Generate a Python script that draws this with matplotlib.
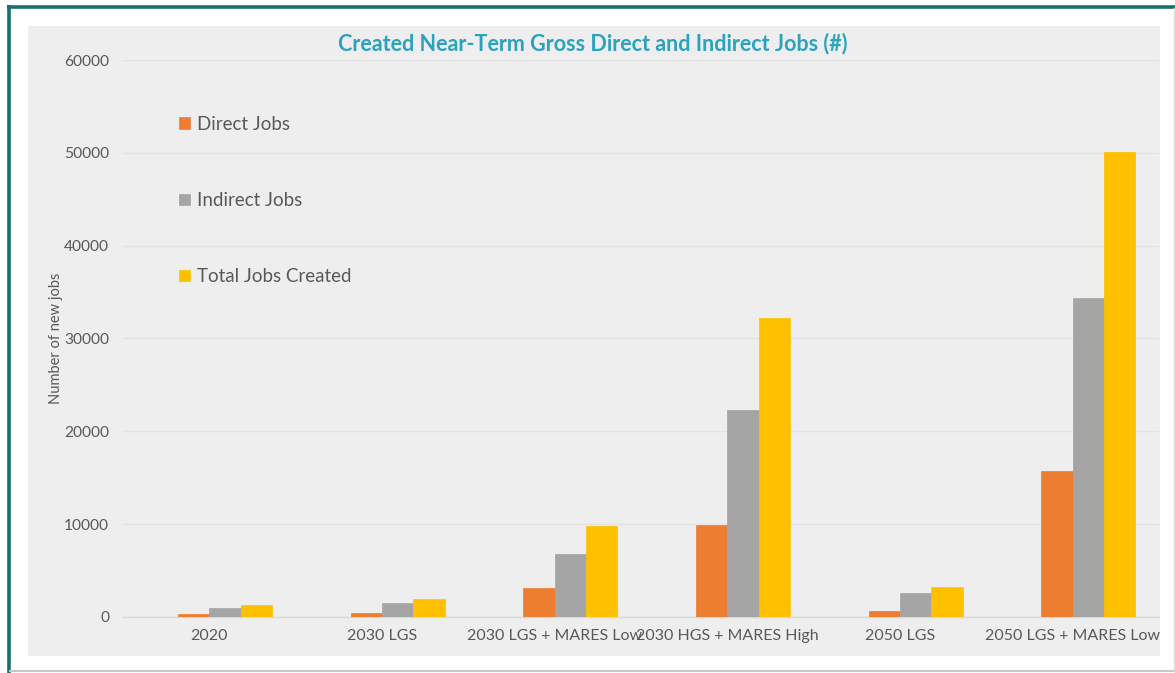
import matplotlib
matplotlib.use("Agg")
import matplotlib.pyplot as plt
import numpy as np
from matplotlib.patches import Rectangle
from matplotlib.lines import Line2D

# Scenario categories and job counts
categories = ["2020", "2030 LGS", "2030 LGS + MARES Low", "2030 HGS + MARES High",
              "2050 LGS", "2050 LGS + MARES Low"]
direct_jobs = [280, 420, 3100, 9890, 590, 15680]
indirect_jobs = [950, 1520, 6720, 22320, 2600, 34380]
total_jobs = [1230, 1940, 9820, 32210, 3190, 50060]

series_names = ["Direct Jobs", "Indirect Jobs", "Total Jobs Created"]
series_values = [direct_jobs, indirect_jobs, total_jobs]
series_colors = ["#ED7D31", "#A5A5A5", "#FFC000"]

y_ticks = [0, 10000, 20000, 30000, 40000, 50000, 60000]

plt.rcParams["font.family"] = ["Lato", "DejaVu Sans"]
text_color = "#595959"

W, H = 1175, 673
fig = plt.figure(figsize=(W / 100, H / 100), dpi=100, facecolor="white")

def fx(px):
    return px / W

def fy(py):
    return 1 - py / H

# Grey chart panel behind everything
fig.patches.append(Rectangle((fx(28), fy(656)), fx(1160) - fx(28), fy(26) - fy(656),
                             transform=fig.transFigure, facecolor="#EEEEEE",
                             edgecolor="none", zorder=-5))
# Frame lines
fig.add_artist(Line2D([fx(7), fx(1175)], [fy(6.5), fy(6.5)], transform=fig.transFigure,
                      color="#17706F", linewidth=2.6, solid_capstyle="butt"))
fig.add_artist(Line2D([fx(8.5), fx(8.5)], [fy(5), fy(673)], transform=fig.transFigure,
                      color="#17706F", linewidth=2.6, solid_capstyle="butt"))
fig.add_artist(Line2D([fx(10), fx(1175)], [fy(671), fy(671)], transform=fig.transFigure,
                      color="#C8C8C8", linewidth=1.5))
fig.add_artist(Line2D([fx(1174), fx(1174)], [fy(8), fy(671)], transform=fig.transFigure,
                      color="#DDDDDD", linewidth=1.0))

ax = fig.add_axes([fx(123), fy(616.8), fx(1159) - fx(123), fy(60) - fy(616.8)])
ax.set_facecolor("none")
ax.set_zorder(2)

x = np.arange(len(categories))
width = 0.181
# four slots per group; the first slot is left empty
offsets = [(k - 1.5) * width for k in range(1, 4)]
for name, vals, color, off in zip(series_names, series_values, series_colors, offsets):
    ax.bar(x + off, vals, width=width, color=color, label=name, zorder=3,
           edgecolor=color, linewidth=0.5)

ax.set_xlim(-0.5, len(categories) - 0.5)
ax.set_ylim(0, 60000)
ax.set_yticks(y_ticks)
ax.set_yticklabels([str(t) for t in y_ticks], fontsize=11.2, color=text_color)
ax.set_xticks(x)
ax.set_xticklabels(categories, fontsize=11.5, color=text_color)
ax.tick_params(axis="both", length=0)
ax.tick_params(axis="y", pad=10)
ax.tick_params(axis="x", pad=9)

ax.grid(axis="y", color="#E3E3E3", linewidth=1.0, zorder=0)
for s in ["top", "right", "left"]:
    ax.spines[s].set_visible(False)
ax.spines["bottom"].set_color("#D9D9D9")
ax.spines["bottom"].set_linewidth(1.0)

fig.text(fx(56), fy(338), "Number of new jobs", rotation=90, ha="center", va="center",
         fontsize=10.5, color=text_color)

fig.text(fx(593), fy(44), "Created Near-Term Gross Direct and Indirect Jobs (#)",
         ha="center", va="center", fontsize=15.5, fontweight="bold", color="#2BA3BF")

leg = fig.legend(loc="upper left", bbox_to_anchor=(fx(179), fy(116)), frameon=False,
                 fontsize=13.5, labelcolor=text_color, handlelength=0.6, handleheight=0.6,
                 handletextpad=0.35, labelspacing=3.15, borderaxespad=0, borderpad=0)

fig.savefig("out.png", dpi=100, facecolor="white")
